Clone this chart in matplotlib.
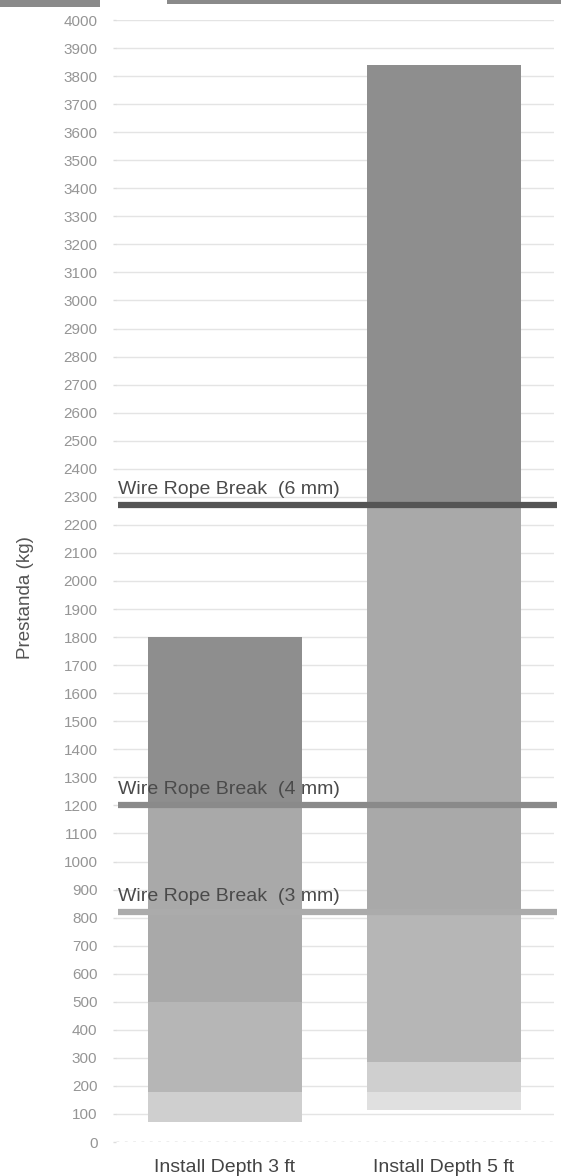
import matplotlib
matplotlib.use("Agg")
import matplotlib.pyplot as plt
from matplotlib.patches import Rectangle

# ---- data ----
categories = ["Install Depth 3 ft", "Install Depth 5 ft"]
# stacked segment boundaries (kg), bottom to top
levels_3ft = [70, 180, 500, 1200, 1800]
levels_5ft = [115, 180, 285, 820, 2270, 3840]
break_labels = ["Wire Rope Break  (6 mm)", "Wire Rope Break  (4 mm)", "Wire Rope Break  (3 mm)"]
break_values = [2270, 1200, 820]
y_ticks = list(range(0, 4001, 100))
y_label = "Prestanda (kg)"

# ---- style ----
seg_colors_from_top = ["#8e8e8e", "#a9a9a9", "#b6b6b6", "#cfcfcf", "#e0e0e0"]
break_colors = ["#555555", "#8a8a8a", "#ababab"]

plt.rcParams['font.family'] = ['Liberation Sans', 'DejaVu Sans']

fig = plt.figure(figsize=(5.61, 11.76), dpi=100)
ax = fig.add_axes([115.5 / 561, 34 / 1176, 438 / 561, 1122 / 1176])

for i, levels in enumerate([levels_3ft, levels_5ft]):
    nseg = len(levels) - 1
    for k in range(nseg):
        color = seg_colors_from_top[nseg - 1 - k]
        ax.bar(i, levels[k + 1] - levels[k], bottom=levels[k], width=0.705,
               color=color, edgecolor='none', zorder=2)

for lab, val, col in zip(break_labels, break_values, break_colors):
    ax.hlines(val, -0.49, 1.515, colors=col, linewidth=4.5, zorder=4, clip_on=False)
    ax.annotate(lab, xy=(-0.49, val), xytext=(0, 5), textcoords='offset points',
                ha='left', va='bottom', fontsize=14, color='#4a4a4a', zorder=5)

ax.set_xlim(-0.5, 1.5)
ax.set_ylim(0, 4000)
ax.set_yticks(y_ticks)
ax.set_yticklabels([str(t) for t in y_ticks], fontsize=11, color='#959595')
ax.set_xticks([0, 1])
ax.set_xticklabels(categories, fontsize=14, color='#444444')
ax.tick_params(axis='y', length=2, width=1, color='#dddddd', pad=11)
ax.tick_params(axis='x', length=0, pad=12)

for t in y_ticks[1:]:
    ax.axhline(t, color='#e4e4e4', linewidth=1, zorder=1)
ax.axhline(0, color='#aaaaaa', linewidth=1, linestyle=(0, (2, 4)), zorder=1)

for s in ax.spines.values():
    s.set_visible(False)

ax.set_ylabel(y_label, fontsize=13.5, color='#555555')
ax.yaxis.set_label_coords(-0.185, 0.485)

# cropped header bars at the very top
fig.patches.append(Rectangle((0, 1 - 7 / 1176), 100 / 561, 7 / 1176, transform=fig.transFigure,
                             facecolor='#8a8a8a', edgecolor='none'))
fig.patches.append(Rectangle((167 / 561, 1 - 3.5 / 1176), 394 / 561, 3.5 / 1176, transform=fig.transFigure,
                             facecolor='#8a8a8a', edgecolor='none'))

fig.savefig("out.png", dpi=100)
